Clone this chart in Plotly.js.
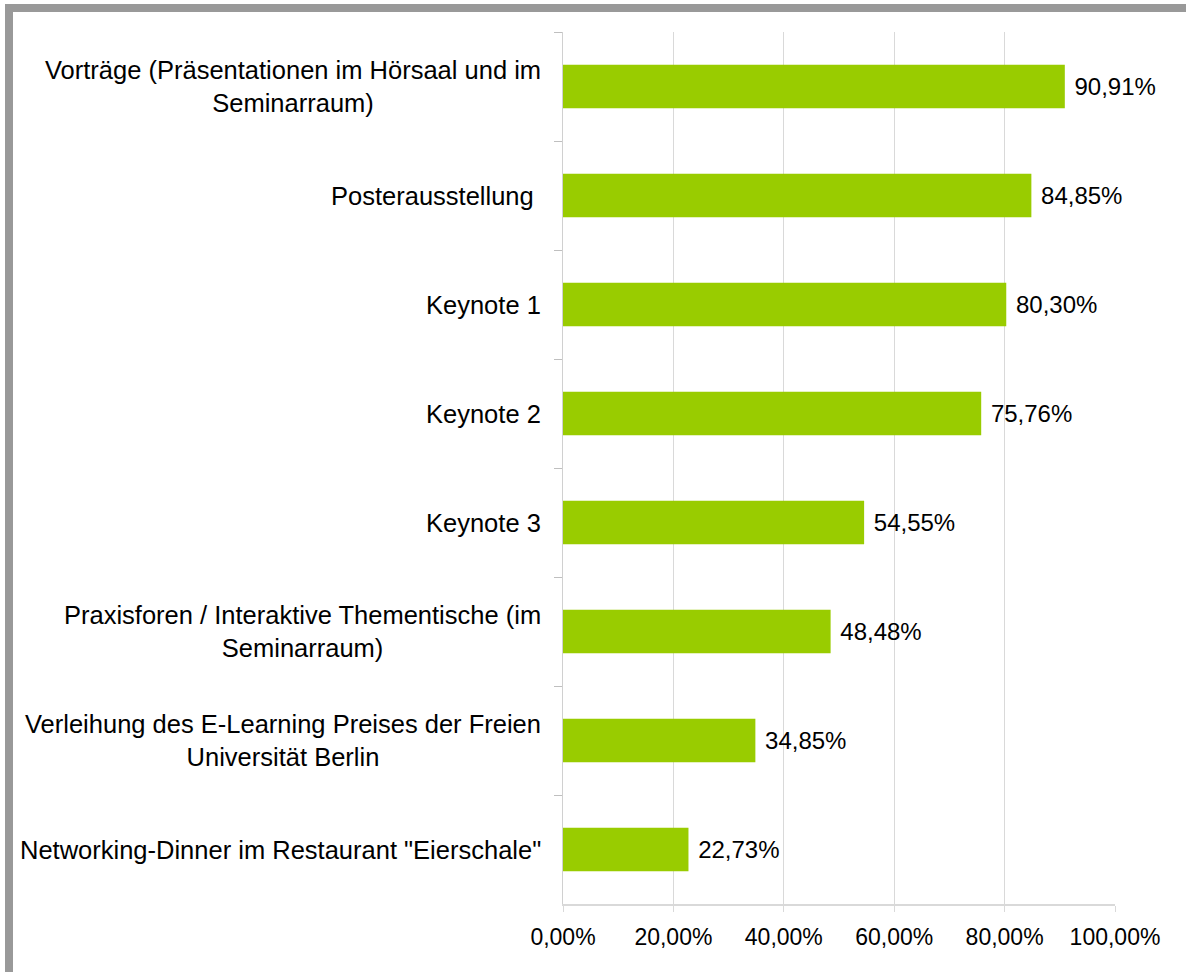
<!DOCTYPE html>
<html>
<head>
<meta charset="utf-8">
<script src="https://cdn.plot.ly/plotly-3.0.1.min.js"></script>
<style>
  body { margin: 0; background: #fff; }
  #frame {
    position: absolute; left: 5px; top: 4px;
    border-left: 8px solid #999999;
    border-top: 8px solid #999999;
  }
</style>
</head>
<body>
<div id="frame"><div id="chart"></div></div>
<script>
// categories, top to bottom
var categories = [
  'Vorträge (Präsentationen im Hörsaal und im<br>Seminarraum)',
  'Posterausstellung ',
  'Keynote 1',
  'Keynote 2',
  'Keynote 3',
  'Praxisforen / Interaktive Thementische (im<br>Seminarraum)',
  'Verleihung des E-Learning Preises der Freien<br>Universität Berlin',
  'Networking-Dinner im Restaurant "Eierschale"'
];
var shares = [90.91, 84.85, 80.30, 75.76, 54.55, 48.48, 34.85, 22.73];
var xTicks = [0, 20, 40, 60, 80, 100];

function pct(v) { return v.toFixed(2).replace('.', ',') + '%'; }

var catFont = {family: 'Liberation Sans, Arial, sans-serif', size: 25.5, color: '#000'};
var valFont = {family: 'Liberation Sans, Arial, sans-serif', size: 24, color: '#000'};
var tickFont = {family: 'Liberation Sans, Arial, sans-serif', size: 23, color: '#000'};

var bars = {
  type: 'bar',
  orientation: 'h',
  y: categories,
  x: shares,
  marker: {color: '#99cc00'},
  text: shares.map(function(v) { return ' ' + pct(v); }),
  textposition: 'outside',
  textfont: valFont,
  cliponaxis: false,
  hoverinfo: 'none'
};

// category labels as annotations so wrapped lines are centred like the original
var catLabels = categories.map(function(c) {
  return {
    text: c, xref: 'paper', x: 0, xshift: -20, xanchor: 'right',
    yref: 'y', y: c, yanchor: 'middle', align: 'center',
    showarrow: false, font: catFont
  };
});

var layout = {
  width: 1173,
  height: 960,
  autosize: false,
  margin: {l: 550, r: 71, t: 20, b: 68},
  paper_bgcolor: '#fff',
  plot_bgcolor: '#fff',
  font: valFont,
  bargap: 0.6,
  showlegend: false,
  xaxis: {
    range: [0, 100],
    tickvals: xTicks,
    ticktext: xTicks.map(pct),
    showgrid: true,
    gridcolor: '#d9d9d9',
    zeroline: false,
    showline: true,
    linecolor: '#d9d9d9',
    linewidth: 2,
    ticks: 'outside',
    ticklen: 6,
    tickcolor: '#d9d9d9',
    ticklabelstandoff: 5,
    tickfont: tickFont,
    fixedrange: true
  },
  yaxis: {
    autorange: 'reversed',
    showticklabels: false,
    ticks: 'outside',
    tickson: 'boundaries',
    ticklen: 8,
    tickcolor: '#bfbfbf',
    showline: true,
    linecolor: '#d0d0d0',
    showgrid: false,
    zeroline: false,
    fixedrange: true
  },
  annotations: catLabels
};

Plotly.newPlot('chart', [bars], layout, {displayModeBar: false, staticPlot: true});
</script>
</body>
</html>
